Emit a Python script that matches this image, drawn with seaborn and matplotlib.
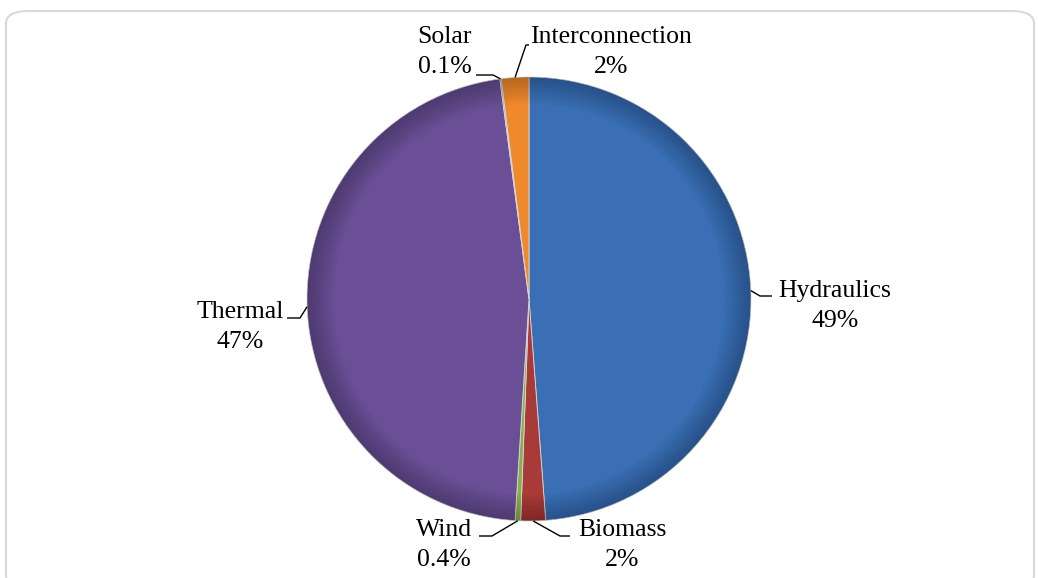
import numpy as np
import matplotlib
matplotlib.use('Agg')
import matplotlib.pyplot as plt
import seaborn as sns
from matplotlib.patches import FancyBboxPatch, Wedge

sns.set_theme(style='white')
plt.rcParams['font.family'] = ['Liberation Serif', 'DejaVu Serif']

# ── Data ───────────────────────────────────────────────────────────
sources = ['Hydraulics', 'Biomass', 'Wind', 'Thermal', 'Solar', 'Interconnection']
shares = [48.8, 1.8, 0.4, 46.9, 0.1, 2.0]
colors = ['#3A6FB5', '#A83B37', '#8BB04A', '#6A4E96', '#45A4BF', '#F0892C']

# ── Layout (pixels) ────────────────────────────────────────────────
W, H = 1038, 578
CX, CY, R = 529, 299, 222
label_pos = {
    'Hydraulics':      dict(text=(835, 306), leader=[(760, 296), (772, 296)]),
    'Biomass':         dict(text=(622, 545), leader=[(560, 536), (570, 536)]),
    'Wind':            dict(text=(444, 545), leader=[(492, 536), (479, 536)]),
    'Thermal':         dict(text=(240, 327), leader=[(300, 318), (287, 318)]),
    'Solar':           dict(text=(445, 52),  leader=[(493, 75), (476, 75)]),
    'Interconnection': dict(text=(611, 52),  leader=[(526, 45), (529, 45)]),
}


def px(x, y):
    return ((x - CX) / R, (CY - y) / R)


fig = plt.figure(figsize=(W / 100, H / 100), dpi=100)
ax = fig.add_axes([0, 0, 1, 1])

wedges, _ = ax.pie(shares, colors=colors, startangle=90, counterclock=False,
                   radius=1, wedgeprops=dict(edgecolor='#D8D8D8', linewidth=0.6))

# rim shading for a bevelled look
for k in range(10):
    ax.add_patch(Wedge((0, 0), 1, 0, 360, width=0.012 * (k + 1),
                       facecolor='black', alpha=0.022, linewidth=0))

for w, name, v in zip(wedges, sources, shares):
    mid = np.deg2rad((w.theta1 + w.theta2) / 2)
    pts = [(np.cos(mid), np.sin(mid))] + [px(*p) for p in label_pos[name]['leader']]
    xs, ys = zip(*pts)
    ax.plot(xs, ys, color='black', linewidth=1.0, solid_capstyle='butt')
    pct = f'{v:.1f}%' if v < 1 else f'{v:.0f}%'
    tx, ty = px(*label_pos[name]['text'])
    ax.text(tx, ty, f'{name}\n{pct}', ha='center', va='center',
            multialignment='center', linespacing=1.43,
            fontsize=18.5, color='black')

x0, y1 = px(0, 0)
x1, y0 = px(W, H)
ax.set_xlim(x0, x1)
ax.set_ylim(y0, y1)
ax.set_aspect('equal')
ax.axis('off')

# rounded chart-area border
fig.patches.append(FancyBboxPatch((6 / W, -10 / H), 1028 / W, (H - 11 + 10) / H,
                                  boxstyle='round,pad=0,rounding_size=0.022',
                                  transform=fig.transFigure, fill=False,
                                  edgecolor='#D9D9D9', linewidth=1.5))

fig.savefig('out.png', dpi=100, facecolor='white')
